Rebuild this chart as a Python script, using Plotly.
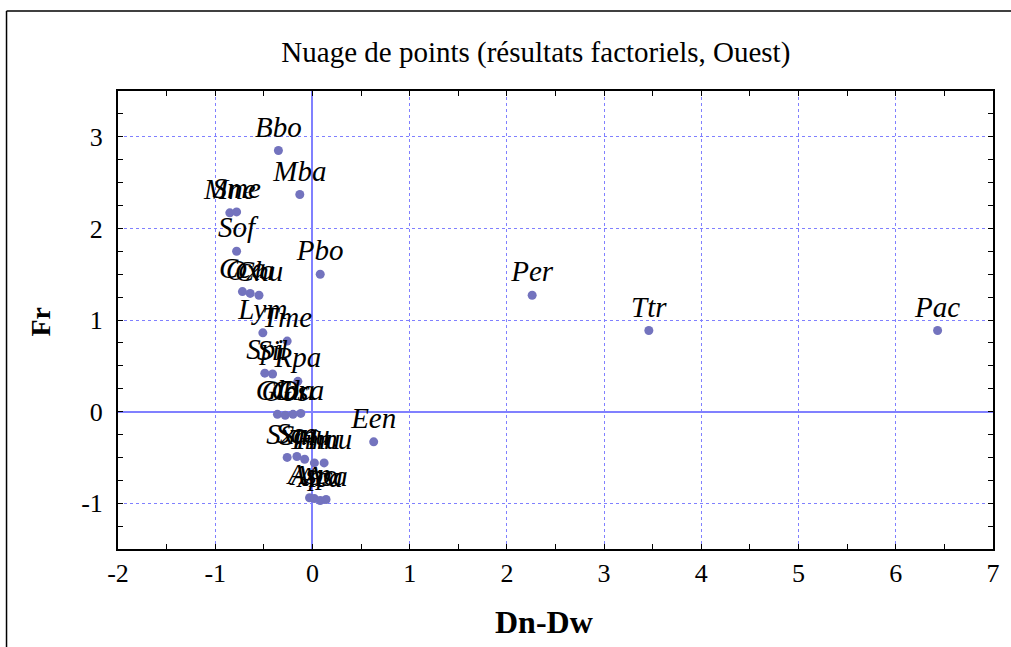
import plotly.graph_objects as go

# Factor scores (Dn-Dw, Fr)
labels = ["Bbo", "Mba", "Mne", "Sme", "Sof", "Pbo",
          "Cca", "Oxa", "Chu",
          "Lym", "Tme",
          "Spi", "Sil", "Rpa",
          "Glo", "Obs", "Gla", "Ora",
          "Sxa", "Sca", "Smu", "Tmu", "Hmu",
          "Asp", "Apo", "Aca", "Asa",
          "Een", "Per", "Ttr", "Pac"]
dn_dw = [-0.35, -0.13, -0.85, -0.78, -0.78, 0.08,
         -0.72, -0.64, -0.55,
         -0.51, -0.26,
         -0.49, -0.41, -0.15,
         -0.36, -0.28, -0.20, -0.12,
         -0.26, -0.16, -0.08, 0.02, 0.12,
         -0.03, 0.02, 0.08, 0.14,
         0.63, 2.26, 3.46, 6.43]
fr = [2.85, 2.37, 2.17, 2.18, 1.75, 1.50,
      1.31, 1.29, 1.27,
      0.86, 0.77,
      0.42, 0.41, 0.33,
      -0.03, -0.04, -0.03, -0.02,
      -0.50, -0.49, -0.52, -0.56, -0.56,
      -0.94, -0.95, -0.97, -0.96,
      -0.33, 1.27, 0.885, 0.885]

x_ticks = list(range(-2, 8))
y_ticks = [-1, 0, 1, 2, 3]

BLUE = "rgb(128,128,255)"

fig = go.Figure()
fig.add_trace(go.Scatter(
    x=dn_dw, y=fr, mode="markers+text", text=labels,
    textposition="top center",
    textfont=dict(family="Liberation Serif", size=29, color="black", style="italic"),
    marker=dict(size=9, color="rgb(115,115,190)"),
    cliponaxis=False, hoverinfo="skip",
))

axis_common = dict(
    showline=True, linewidth=2, linecolor="black", mirror="ticks",
    ticks="inside", ticklen=5, tickcolor="black", tickwidth=1,
    showgrid=True, gridcolor=BLUE, griddash="dot", gridwidth=1,
    zeroline=True, zerolinecolor=BLUE, zerolinewidth=1.5,
    tickfont=dict(family="Liberation Serif", size=26, color="black"),
)

fig.update_xaxes(range=[-2, 7], tickvals=x_ticks, ticktext=[str(v) for v in x_ticks],
                 minor=dict(dtick=0.5, ticks="inside", ticklen=5, tickcolor="black", showgrid=False),
                 **axis_common)
fig.update_yaxes(range=[-1.5, 3.5], tickvals=y_ticks, ticktext=[str(v) for v in y_ticks],
                 minor=dict(dtick=0.25, ticks="inside", ticklen=5, tickcolor="black", showgrid=False),
                 ticklabelstandoff=8,
                 **axis_common)

# axis titles
fig.add_annotation(text="<b>Dn-Dw</b>", xref="paper", yref="paper", x=0.487, y=-0.159,
                   xanchor="center", yanchor="middle", showarrow=False,
                   font=dict(family="Liberation Serif", size=32, color="black"))
fig.add_annotation(text="<b>Fr</b>", xref="paper", yref="paper", x=-0.089, y=0.497,
                   xanchor="center", yanchor="middle", showarrow=False, textangle=-90,
                   font=dict(family="Liberation Serif", size=28, color="black"))

# outer frame (left and top border)
fig.add_shape(type="line", xref="paper", yref="paper", x0=-0.1274, x1=-0.1274, y0=1.1747, y1=-0.3,
              line=dict(color="black", width=1.5))
fig.add_shape(type="line", xref="paper", yref="paper", x0=-0.1274, x1=1.1, y0=1.1747, y1=1.1747,
              line=dict(color="black", width=1.5))

fig.update_layout(
    width=1011, height=647,
    margin=dict(l=118, r=18, t=91, b=98),
    paper_bgcolor="white", plot_bgcolor="white",
    showlegend=False,
    title=dict(text="Nuage de points (résultats factoriels, Ouest)",
               font=dict(family="Liberation Serif", size=29, color="black"),
               x=0.53, xanchor="center", y=0.92, yanchor="middle"),
)

fig.write_html("out.html")
